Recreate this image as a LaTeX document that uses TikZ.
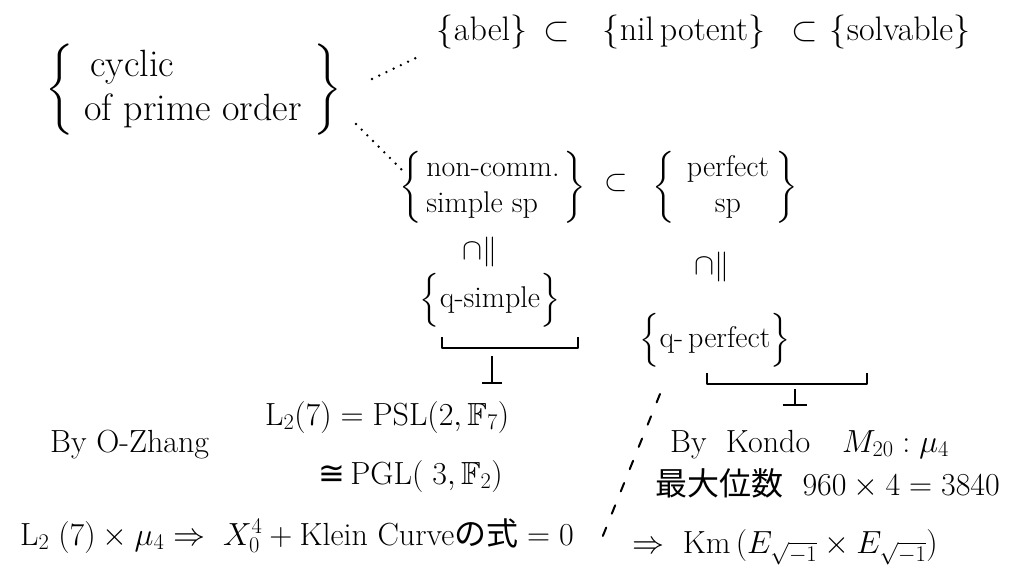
\RequirePackage{fix-cm}
\documentclass[tikz,border=0pt]{standalone}
\usepackage{amsmath,amssymb}
\usepackage{fontspec}
\newfontfamily\jp{Noto Sans CJK JP}
\newfontfamily\symf{DejaVu Sans}
\tikzset{
  txt/.style={inner sep=0pt, font=\fontsize{32}{38}\selectfont},
  mid/.style={inner sep=0pt, font=\fontsize{30}{36}\selectfont},
  big/.style={inner sep=0pt, font=\fontsize{34}{40}\selectfont},
  huge/.style={inner sep=0pt, font=\fontsize{38}{44}\selectfont},
  dotline/.style={line width=2.6pt, line cap=round, dash pattern=on 0pt off 8pt},
  dashline/.style={line width=2pt, line cap=round, dash pattern=on 9pt off 15pt},
  ubrace/.style={line width=2.2pt, line join=round},
}
\begin{document}
\begin{tikzpicture}[x=1pt,y=-1pt]
\useasboundingbox (0,0) rectangle (1019,574);
% left set
\node[huge] (cyc) at (194,90) {$\renewcommand{\arraystretch}{1.0}\left\{\begin{array}{@{\hspace{10pt}}l@{\hspace{12pt}}}\hspace{6pt}\text{cyclic}\\\text{of prime order}\end{array}\right\}$};
% top row
\node[big,anchor=base] (abel) at (482,40) {$\{\text{abel}\}$};
\node[big,anchor=base] (s1) at (557,40) {$\subset$};
\node[big,anchor=base] (nil) at (684,40) {$\{\text{nil\,potent}\}$};
\node[big,anchor=base] (s2) at (805,40) {$\subset$};
\node[big,anchor=base] (solv) at (900,40) {$\{\text{solvable}\}$};
% middle
\node[mid] (ncs) at (493,187) {$\renewcommand{\arraystretch}{1.0}\left\{\begin{array}{@{\hspace{4pt}}l@{\hspace{4pt}}}\text{non-comm.}\\\text{simple sp}\end{array}\right\}$};
\node[mid] (s3) at (616,183) {$\subset$};
\node[mid] (per) at (725,187) {$\renewcommand{\arraystretch}{1.0}\left\{\begin{array}{@{\hspace{12pt}}c@{\hspace{6pt}}}\text{perfect}\\\text{sp}\end{array}\right\}$};
\node[mid] (c1) at (480,252) {$\cap\|$};
\node[mid] (c2) at (712,267) {$\cap\|$};
\node[mid] (qs) at (490,300) {$\Bigl\{\text{q-simple}\Bigr\}$};
\node[mid] (qp) at (715,340) {$\Bigl\{\text{q-\,perfect}\Bigr\}$};
% under-brackets and marks
\coordinate (lb1) at (442,337); \coordinate (lb2) at (578,337);
\coordinate (lt) at (492,356); \coordinate (lbot) at (492,383);
\coordinate (rb1) at (707,373); \coordinate (rb2) at (867,373);
\coordinate (rt) at (795,389); \coordinate (rbot) at (795,405);
\draw[ubrace] (lb1) -- ++(0,11) -| (lb2);
\draw[ubrace] (rb1) -- ++(0,11) -| (rb2);
\draw[ubrace] (lt) -- (lbot) ++(-10,0) -- ++(20,0);
\draw[ubrace] (rt) -- (rbot) ++(-12,0) -- ++(24,0);
% dotted connectors
\coordinate (d1s) at (372,79); \coordinate (d1e) at (422,55);
\coordinate (d2s) at (356,124); \coordinate (d2e) at (402,170);
\draw[dotline] (d1s) -- (d1e);
\draw[dotline] (d2s) -- (d2e);
% bottom left
\node[txt,anchor=base west] (oz) at (50,452) {By O-Zhang};
\node[txt,anchor=base west] (psl) at (265,425) {$\mathrm{L}_2(7)=\mathrm{PSL}(2,\mathbb{F}_7)$};
\node[txt,anchor=base west] (pgl) at (318,484) {{\symf ≅}\,$\mathrm{PGL}(\;3,\mathbb{F}_2)$};
\node[txt,anchor=base west] (bot) at (20,545) {$\mathrm{L}_2\;(7)\times\mu_4\Rightarrow\; X_0^4+{}$Klein Curve{\jp の式}$\;=0$};
% separator
\coordinate (sep1) at (660,394); \coordinate (sep2) at (602,538);
\draw[dashline] (sep1) -- (sep2);
% bottom right
\node[txt,anchor=base west] (kon) at (670,452) {By\ \ Kondo\quad $M_{20}:\mu_4$};
\node[txt,anchor=base west] (jpl) at (655,495) {{\jp 最大位数}\ \ $960\times 4=3840$};
\node[txt,anchor=base west] (km) at (632,553) {$\Rightarrow\ \mathrm{Km}\,(E_{\sqrt{-1}}\times E_{\sqrt{-1}})$};
\end{tikzpicture}
\end{document}
